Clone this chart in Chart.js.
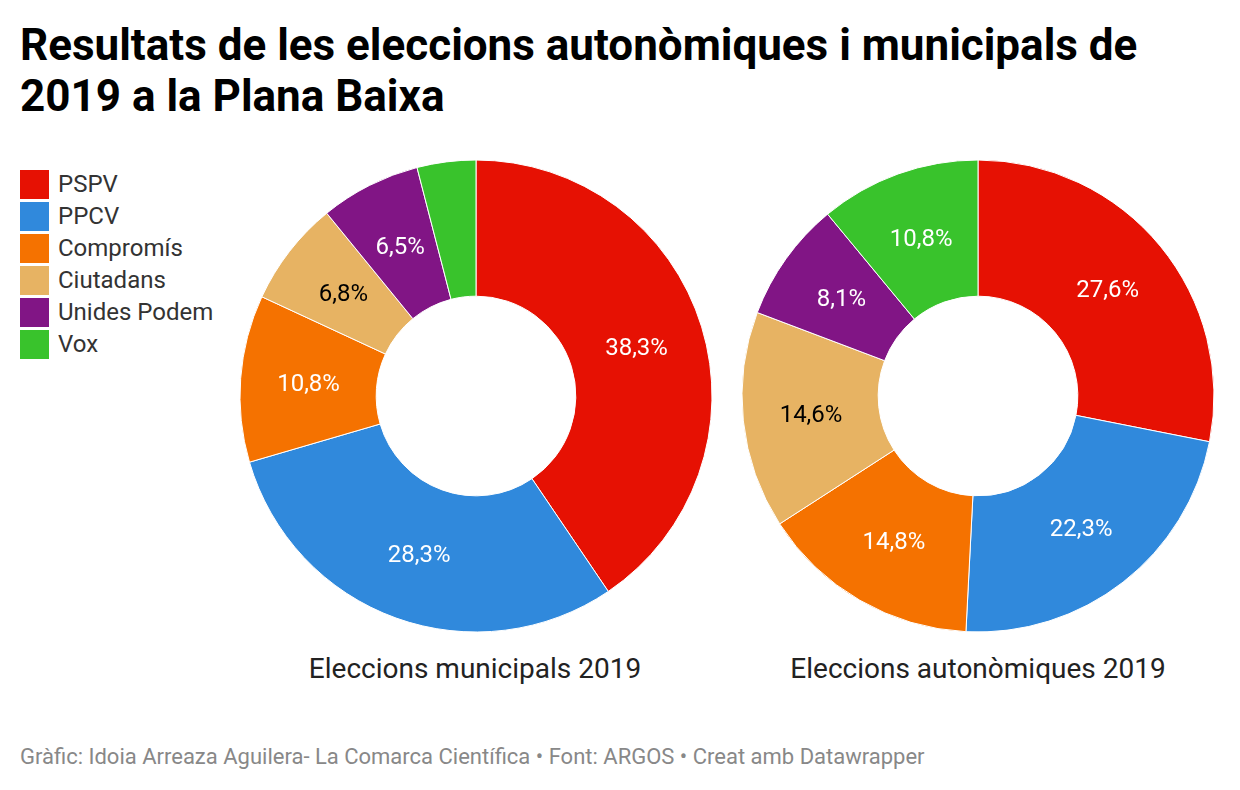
<!DOCTYPE html>
<html lang="ca">
<head>
<meta charset="utf-8">
<title>Resultats de les eleccions</title>
<script src="https://cdn.jsdelivr.net/npm/chart.js@4"></script>
<style>
  html, body { margin: 0; padding: 0; background: #fff; }
  body { position: relative; width: 1240px; height: 790px; overflow: hidden; font-family: Roboto, sans-serif; }
  h1 { position: absolute; left: 20px; top: 20px; width: 1180px; margin: 0; font-size: 44px; line-height: 51px; font-weight: 700; color: #000; }
  .legend { position: absolute; left: 20px; top: 168px; }
  .legend div { height: 32px; display: flex; align-items: center; font-size: 24px; color: #333; }
  .legend i { display: block; width: 29px; height: 29px; margin-right: 9px; }
  .chart { position: absolute; top: 150px; width: 492px; height: 492px; }
  .chart canvas { display: block; }
  .name { position: absolute; top: 652px; font-size: 28px; line-height: 34px; color: #222; white-space: nowrap; transform: translateX(-50%); }
  .foot { position: absolute; left: 20px; top: 743px; font-size: 22px; line-height: 28px; color: #888; white-space: nowrap; }
</style>
</head>
<body>
<h1>Resultats de les eleccions autonòmiques i municipals de 2019 a la Plana Baixa</h1>
<div class="legend" id="legend"></div>
<div class="chart" style="left:230px"><canvas id="muni" width="492" height="492"></canvas></div>
<div class="chart" style="left:732px"><canvas id="auto" width="492" height="492"></canvas></div>
<div class="name" style="left:475px">Eleccions municipals 2019</div>
<div class="name" style="left:978px">Eleccions autonòmiques 2019</div>
<div class="foot">Gràfic: Idoia Arreaza Aguilera- La Comarca Científica • Font: ARGOS • Creat amb Datawrapper</div>
<script>
'use strict';

const PARTIES = ['PSPV', 'PPCV', 'Compromís', 'Ciutadans', 'Unides Podem', 'Vox'];
const MUNICIPAL = [38.3, 28.3, 10.8, 6.8, 6.5, 3.8];
const AUTONOMIC = [27.6, 22.3, 14.8, 14.6, 8.1, 10.8];
const COLORS = ['#e61103', '#3089dc', '#f57200', '#e7b363', '#811585', '#39c32c'];
const LABEL_COLORS = ['#fff', '#fff', '#fff', '#000', '#fff', '#fff'];
const MIN_LABEL = 5; // Vox on the municipal chart has no label

document.getElementById('legend').innerHTML = PARTIES
  .map((p, i) => `<div><i style="background:${COLORS[i]}"></i>${p}</div>`)
  .join('');

// Percent labels in the middle of each slice
const sliceLabels = {
  id: 'sliceLabels',
  afterDatasetsDraw(chart) {
    const { ctx } = chart;
    const values = chart.data.datasets[0].data;
    ctx.save();
    ctx.font = '24px Roboto';
    ctx.textAlign = 'center';
    ctx.textBaseline = 'middle';
    chart.getDatasetMeta(0).data.forEach((arc, i) => {
      if (values[i] < MIN_LABEL) return;
      const pos = arc.tooltipPosition();
      ctx.fillStyle = LABEL_COLORS[i];
      ctx.fillText(values[i].toFixed(1).replace('.', ',') + '%', pos.x, pos.y + 2);
    });
    ctx.restore();
  },
};

function drawDoughnut(id, values) {
  new Chart(document.getElementById(id), {
    type: 'doughnut',
    data: {
      labels: PARTIES,
      datasets: [{ data: values, backgroundColor: COLORS, borderColor: '#fff', borderWidth: 1 }],
    },
    options: {
      responsive: false,
      animation: false,
      cutout: '42.3%',
      layout: { padding: 9.5 },
      plugins: { legend: { display: false }, tooltip: { enabled: false } },
    },
    plugins: [sliceLabels],
  });
}

drawDoughnut('muni', MUNICIPAL);
drawDoughnut('auto', AUTONOMIC);
</script>
</body>
</html>
